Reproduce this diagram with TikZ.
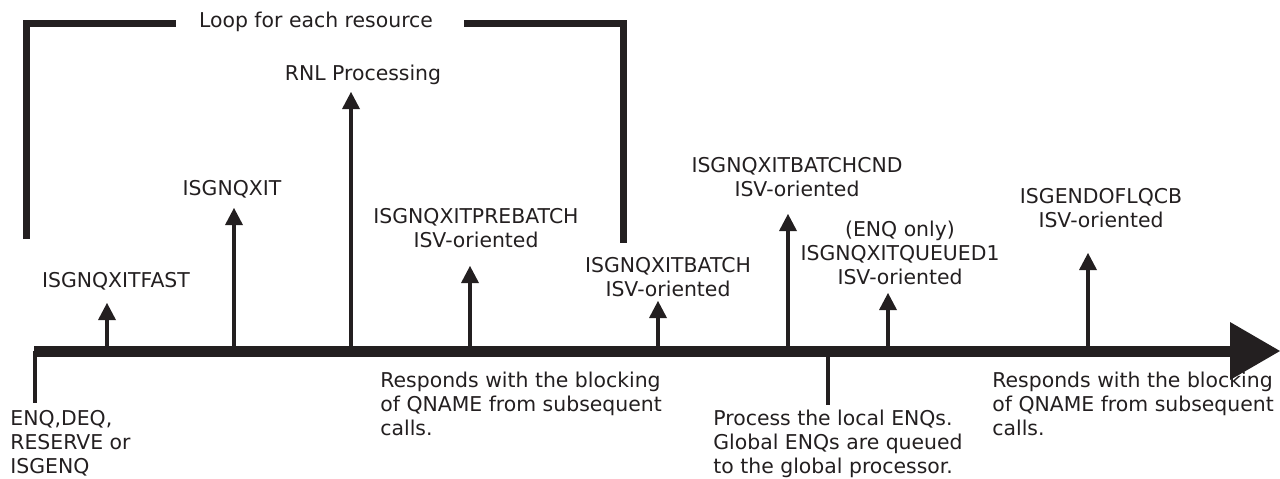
\documentclass[tikz,border=0pt]{standalone}
\usepackage{fontspec}
\setmainfont{DejaVu Sans}
\usetikzlibrary{arrows.meta}

\definecolor{ink}{RGB}{35,31,32}
\tikzset{
  lbl/.style={anchor=base,align=center,inner sep=0pt,text=ink,
    font=\fontsize{10.2}{11.8}\selectfont},
  note/.style={lbl,anchor=base west,align=left},
  exitarrow/.style={draw=ink,line width=2pt,
    -{Triangle[width=9pt,length=8.5pt,line width=0pt]}},
  drop/.style={draw=ink,line width=2pt},
  loopline/.style={draw=ink,line width=3.5pt,line join=miter},
  timeline/.style={draw=ink,line width=5.5pt,
    -{Triangle[width=29pt,length=25pt,line width=0pt]}},
}

\begin{document}
\begin{tikzpicture}[x=0.5pt,y=-0.5pt]
      \useasboundingbox (0,0) rectangle (1280,478);

      \coordinate (start) at (34,351);
      \coordinate (end) at (1280,351);

      \coordinate (l1) at (26,239);
      \coordinate (l2) at (26,23);
      \coordinate (l3) at (176,23);
      \coordinate (r1) at (464,23);
      \coordinate (r2) at (623,23);
      \coordinate (r3) at (623,243);

      \coordinate (t1) at (107,351);
      \coordinate (t2) at (234,351);
      \coordinate (t3) at (351,351);
      \coordinate (t4) at (470,351);
      \coordinate (t5) at (658,351);
      \coordinate (t6) at (788,351);
      \coordinate (t7) at (888,351);
      \coordinate (t8) at (1088,351);

      \coordinate (h1) at (107,303);
      \coordinate (h2) at (234,208);
      \coordinate (h3) at (351,92);
      \coordinate (h4) at (470,266);
      \coordinate (h5) at (658,301);
      \coordinate (h6) at (788,214);
      \coordinate (h7) at (888,293);
      \coordinate (h8) at (1088,253);

      \coordinate (s1) at (35,351);
      \coordinate (d1) at (35,403);
      \coordinate (s2) at (828,351);
      \coordinate (d2) at (828,405);

      \node[lbl] (loop) at (316,27) {Loop for each resource};

      \node[lbl] (fast) at (116,287) {ISGNQXITFAST};
      \node[lbl] (exit) at (232,195) {ISGNQXIT};
      \node[lbl] (rnl) at (363,80) {RNL Processing};
      \node[lbl] (prebatch) at (476,247) {ISGNQXITPREBATCH\\ISV-oriented};
      \node[lbl] (batch) at (668,296) {ISGNQXITBATCH\\ISV-oriented};
      \node[lbl] (batchcnd) at (797,196) {ISGNQXITBATCHCND\\ISV-oriented};
      \node[lbl] (queued) at (900,284) {(ENQ only)\\ISGNQXITQUEUED1\\ISV-oriented};
      \node[lbl] (endlq) at (1101,227) {ISGENDOFLQCB\\ISV-oriented};

      \node[note] (req) at (10,473) {ENQ,DEQ,\\RESERVE or\\ISGENQ};
      \node[note] (resp1) at (380,435) {Responds with the blocking\\of QNAME from subsequent\\calls.};
      \node[note] (local) at (713,473) {Process the local ENQs.\\Global ENQs are queued\\to the global processor.};
      \node[note] (resp2) at (992,435) {Responds with the blocking\\of QNAME from subsequent\\calls.};

      \draw[loopline] (l1) -- (l2) -- (l3);
      \draw[loopline] (r1) -- (r2) -- (r3);

      \foreach \i in {1,...,8}
        \draw[exitarrow] (t\i) -- (h\i);
      \draw[drop] (s1) -- (d1);
      \draw[drop] (s2) -- (d2);

      \draw[timeline] (start) -- (end);
    \end{tikzpicture}
\end{document}
